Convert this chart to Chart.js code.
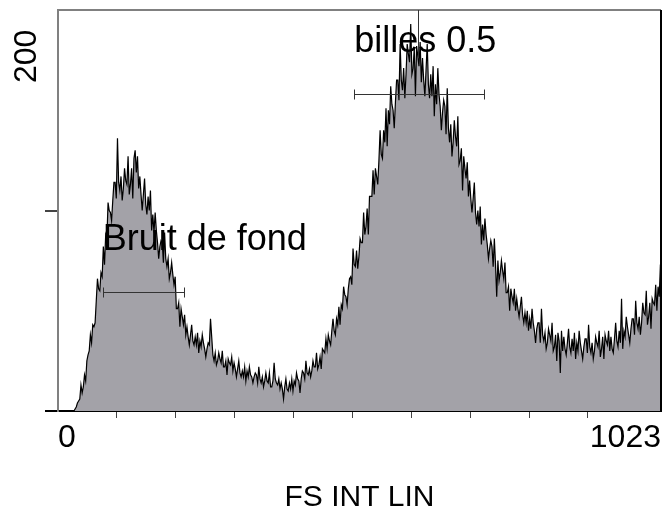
<!DOCTYPE html>
<html>
<head>
<meta charset="utf-8">
<script src="https://cdn.jsdelivr.net/npm/chart.js@4.4.1/dist/chart.umd.min.js"></script>
<style>
  html, body { margin: 0; padding: 0; background: #fff; }
  canvas { display: block; }
</style>
</head>
<body>
<canvas id="histo" width="665" height="507"></canvas>
<script>
// FS INT LIN histogram, 1024 channels read in bins of 2 channels
const binWidth = 2;
const counts = [
  0, 0, 0, 0, 0, 0, 0, 0, 0, 0,
  0, 0, 0, 0, 1, 2, 4, 5, 6, 13,
  9, 12, 18, 15, 25, 28, 30, 38, 34, 43,
  42, 44, 55, 66, 61, 60, 69, 67, 82, 73,
  88, 86, 104, 100, 99, 95, 105, 114, 114, 106,
  136, 114, 110, 117, 105, 111, 121, 115, 113, 127,
  108, 113, 121, 106, 126, 130, 119, 127, 111, 117,
  108, 100, 108, 116, 103, 98, 107, 100, 110, 90,
  98, 89, 99, 90, 84, 76, 82, 85, 84, 74,
  89, 76, 72, 76, 66, 69, 74, 68, 63, 67,
  51, 51, 54, 42, 51, 47, 43, 48, 38, 42,
  37, 33, 38, 43, 35, 33, 37, 33, 39, 29,
  35, 32, 38, 34, 31, 27, 31, 34, 33, 46,
  37, 28, 25, 29, 23, 25, 29, 26, 24, 30,
  22, 22, 25, 18, 26, 24, 23, 27, 20, 24,
  21, 17, 21, 25, 19, 17, 20, 17, 22, 15,
  20, 17, 22, 18, 17, 14, 17, 19, 18, 14,
  22, 16, 14, 17, 12, 15, 19, 15, 14, 19,
  12, 12, 15, 24, 16, 14, 13, 16, 11, 14,
  11, 6, 12, 16, 11, 10, 14, 11, 16, 10,
  15, 13, 19, 16, 15, 9, 16, 20, 19, 16,
  25, 19, 18, 21, 17, 20, 25, 22, 22, 29,
  21, 23, 27, 21, 31, 30, 29, 36, 31, 38,
  35, 33, 40, 46, 40, 38, 46, 43, 52, 43,
  53, 51, 62, 58, 57, 53, 61, 66, 67, 63,
  81, 73, 72, 80, 71, 77, 86, 84, 84, 99,
  88, 92, 101, 88, 107, 107, 107, 120, 108, 121,
  117, 113, 125, 140, 128, 126, 140, 134, 151, 132,
  150, 143, 162, 153, 150, 141, 154, 165, 165, 155,
  183, 165, 160, 171, 156, 168, 183, 178, 174, 193,
  168, 171, 181, 157, 182, 177, 172, 184, 164, 176,
  165, 157, 170, 183, 163, 156, 168, 157, 172, 147,
  163, 153, 171, 158, 152, 140, 149, 155, 152, 138,
  161, 141, 134, 143, 127, 134, 145, 137, 132, 147,
  123, 125, 131, 110, 127, 121, 116, 124, 107, 115,
  106, 99, 106, 114, 99, 93, 100, 92, 102, 83,
  93, 85, 96, 88, 83, 76, 81, 85, 82, 72,
  86, 73, 57, 75, 65, 69, 75, 70, 66, 74,
  59, 59, 62, 50, 61, 57, 54, 61, 50, 56,
  51, 47, 52, 57, 48, 44, 49, 44, 50, 40,
  46, 41, 51, 44, 40, 34, 41, 44, 44, 34,
  51, 38, 35, 39, 31, 34, 41, 38, 35, 44,
  30, 32, 38, 25, 39, 35, 19, 40, 30, 37,
  31, 28, 34, 41, 32, 29, 36, 30, 39, 26,
  34, 30, 40, 34, 30, 26, 32, 36, 36, 29,
  43, 32, 29, 34, 26, 30, 37, 34, 32, 40,
  27, 31, 37, 26, 38, 35, 33, 40, 30, 37,
  31, 29, 36, 44, 35, 32, 40, 34, 56, 31,
  40, 37, 47, 42, 38, 34, 41, 46, 46, 38,
  55, 44, 41, 47, 38, 44, 54, 49, 48, 60,
  43, 47, 54, 41, 56, 54, 53, 63, 50, 62,
  57, 73
];

const xTicks = [0, 100, 200, 300, 400, 500, 600, 700, 800, 900, 1024];
const xTickLabels = { 0: '0', 1024: '1023' };
const yTicks = [0, 100, 200];
const yTickLabel = '200';

// gates: [start channel, end channel, level, label]
const gates = [
  [76, 214, 59.5, 'Bruit de fond'],
  [503, 723, 158, 'billes 0.5']
];
const cursorChannel = 611;

const points = counts.map((c, i) => ({ x: i * binWidth + binWidth / 2, y: c }));

const overlay = {
  id: 'overlay',
  afterDatasetsDraw(chart) {
    const { ctx, chartArea: a, scales: { x, y } } = chart;
    ctx.save();
    // frame
    ctx.lineWidth = 2;
    ctx.strokeStyle = '#808080';
    ctx.beginPath();
    ctx.moveTo(a.left - 1, a.top);
    ctx.lineTo(a.right, a.top);
    ctx.stroke();
    ctx.strokeStyle = '#000';
    ctx.beginPath();
    ctx.moveTo(a.right, a.top);
    ctx.lineTo(a.right, a.bottom);
    ctx.stroke();

    // gates
    ctx.strokeStyle = '#333';
    ctx.lineWidth = 1;
    gates.forEach(([c0, c1, lvl]) => {
      const x0 = Math.round(x.getPixelForValue(c0)) + 0.5;
      const x1 = Math.round(x.getPixelForValue(c1)) + 0.5;
      const yy = Math.round(y.getPixelForValue(lvl)) + 0.5;
      ctx.beginPath();
      ctx.moveTo(x0, yy); ctx.lineTo(x1, yy);
      ctx.moveTo(x0, yy - 5); ctx.lineTo(x0, yy + 5);
      ctx.moveTo(x1, yy - 5); ctx.lineTo(x1, yy + 5);
      ctx.stroke();
    });
    const cx = Math.round(x.getPixelForValue(cursorChannel)) + 0.5;
    ctx.beginPath();
    ctx.moveTo(cx, a.top);
    ctx.lineTo(cx, y.getPixelForValue(176));
    ctx.stroke();

    // gate labels
    ctx.fillStyle = '#000';
    ctx.font = '36px "Liberation Sans", Arial, sans-serif';
    ctx.textBaseline = 'alphabetic';
    ctx.textAlign = 'left';
    ctx.fillText(gates[0][3], x.getPixelForValue(gates[0][0]), y.getPixelForValue(80.5));
    ctx.fillText(gates[1][3], x.getPixelForValue(gates[1][0]), y.getPixelForValue(179));

    // rotated y label
    ctx.font = '32px "Liberation Sans", Arial, sans-serif';
    ctx.translate(36, 83);
    ctx.rotate(-Math.PI / 2);
    ctx.fillText(yTickLabel, 0, 0);
    ctx.restore();
  }
};

new Chart(document.getElementById('histo'), {
  type: 'line',
  data: {
    datasets: [{
      data: points,
      borderColor: '#000',
      borderWidth: 1.2,
      backgroundColor: '#a3a2a8',
      fill: 'origin',
      pointRadius: 0,
      tension: 0
    }]
  },
  options: {
    responsive: false,
    animation: false,
    devicePixelRatio: 1,
    layout: { padding: { top: 10, right: 4, left: 0, bottom: 0 } },
    plugins: {
      legend: { display: false },
      tooltip: { enabled: false }
    },
    scales: {
      x: {
        type: 'linear',
        min: 0,
        max: 1024,
        afterBuildTicks: (scale) => { scale.ticks = xTicks.map((v) => ({ value: v })); },
        afterFit: (scale) => { scale.height = 96; },
        border: { color: '#000', width: 2 },
        grid: {
          drawOnChartArea: false,
          tickLength: 7,
          color: (ctx) => (ctx.tick && xTickLabels[ctx.tick.value] !== undefined ? 'rgba(0,0,0,0)' : '#444')
        },
        ticks: {
          autoSkip: false,
          maxRotation: 0,
          align: 'inner',
          padding: 1,
          color: '#000',
          font: { family: '"Liberation Sans", Arial, sans-serif', size: 32 },
          callback: (v) => xTickLabels[v] || ''
        },
        title: {
          display: true,
          text: 'FS INT LIN',
          color: '#000',
          font: { family: '"Liberation Sans", Arial, sans-serif', size: 30 },
          padding: { top: 0, bottom: -9 }
        }
      },
      y: {
        min: 0,
        max: 200,
        afterBuildTicks: (scale) => { scale.ticks = yTicks.map((v) => ({ value: v })); },
        afterFit: (scale) => { scale.width = 58; },
        border: { color: '#808080', width: 2 },
        grid: {
          drawOnChartArea: false,
          tickLength: 13,
          lineWidth: 2,
          color: (ctx) => {
            if (!ctx.tick) return '#444';
            if (ctx.tick.value === 0) return '#000';
            if (ctx.tick.value === 200) return 'rgba(0,0,0,0)';
            return '#444';
          }
        },
        ticks: { display: false }
      }
    }
  },
  plugins: [overlay]
});
</script>
</body>
</html>
